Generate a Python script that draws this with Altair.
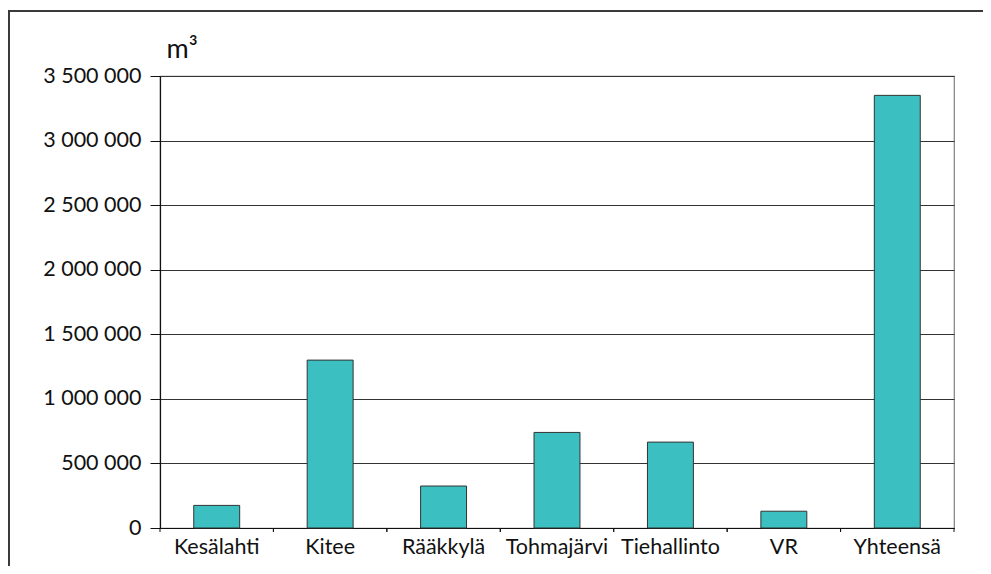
import altair as alt
import pandas as pd

categories = ["Kesälahti", "Kitee", "Rääkkylä", "Tohmajärvi", "Tiehallinto", "VR", "Yhteensä"]
volumes = [175000, 1300000, 325000, 740000, 665000, 130000, 3350000]
y_ticks = [0, 500000, 1000000, 1500000, 2000000, 2500000, 3000000, 3500000]
y_tick_labels = ["0", "500 000", "1 000 000", "1 500 000", "2 000 000",
                 "2 500 000", "3 000 000", "3 500 000"]
unit_label = "m³"

df = pd.DataFrame({"alue": categories, "m3": volumes})

W, H = 794, 452
FONT = "Lato"
TXT = "#111111"

label_expr = "[" + ",".join(f"'{s}'" for s in y_tick_labels) + "][round(datum.value / 500000)]"

x_axis = alt.Axis(title=None, labelAngle=0, ticks=False, labelPadding=8,
                  labelFont=FONT, labelFontSize=21.5, labelColor=TXT,
                  domainColor="#111", domainWidth=1.2, grid=False)
x_scale = alt.Scale(paddingInner=0, paddingOuter=0)

y_axis = alt.Axis(values=y_ticks, labelExpr=label_expr, tickSize=10, tickColor="#111",
                  labelPadding=9, labelFont=FONT, labelFontSize=21.5, labelColor=TXT,
                  grid=True, gridColor="#333333", gridWidth=1,
                  domainColor="#111", domainWidth=1.2,
                  title=unit_label, titleAngle=0, titleX=6, titleY=-19,
                  titleAlign="left", titleBaseline="alphabetic",
                  titleFont=FONT, titleFontSize=27, titleFontWeight="normal", titleColor=TXT)

bars = alt.Chart(df).mark_bar(
    width=alt.RelativeBandSize(0.405), color="#3BBFC0", stroke="#333333", strokeWidth=1
).encode(
    x=alt.X("alue:N", sort=categories, scale=x_scale, axis=x_axis),
    y=alt.Y("m3:Q", scale=alt.Scale(domain=[0, 3500000], nice=False), axis=y_axis),
)

ticks_end = alt.Chart(df).mark_rule(color="#111", strokeWidth=1).encode(
    x=alt.X("alue:N", sort=categories, bandPosition=1, scale=x_scale, axis=x_axis),
    y=alt.value(H),
    y2=alt.value(H + 4),
)
ticks_start = alt.Chart(df).mark_rule(color="#111", strokeWidth=1).encode(
    x=alt.X("alue:N", sort=categories, bandPosition=0, scale=x_scale, axis=x_axis),
    y=alt.value(H),
    y2=alt.value(H + 4),
)

border_src = alt.Data(values=[{"k": 1}])
border_left = alt.Chart(border_src).mark_rule(color="#3a3a3a", strokeWidth=2).encode(
    x=alt.value(-151), y=alt.value(-65), y2=alt.value(H + 60)
)
border_top = alt.Chart(border_src).mark_rule(color="#3a3a3a", strokeWidth=2).encode(
    y=alt.value(-65), x=alt.value(-152), x2=alt.value(W + 60)
)

chart = alt.layer(bars, ticks_start, ticks_end, border_left, border_top).properties(
    width=W,
    height=H,
    autosize=alt.AutoSizeParams(type="none"),
    padding={"left": 152, "top": 68, "right": 29, "bottom": 38},
).configure_view(stroke="#808080", strokeWidth=1.2)

chart.save("out.html", embed_options={"renderer": "svg", "actions": False})
